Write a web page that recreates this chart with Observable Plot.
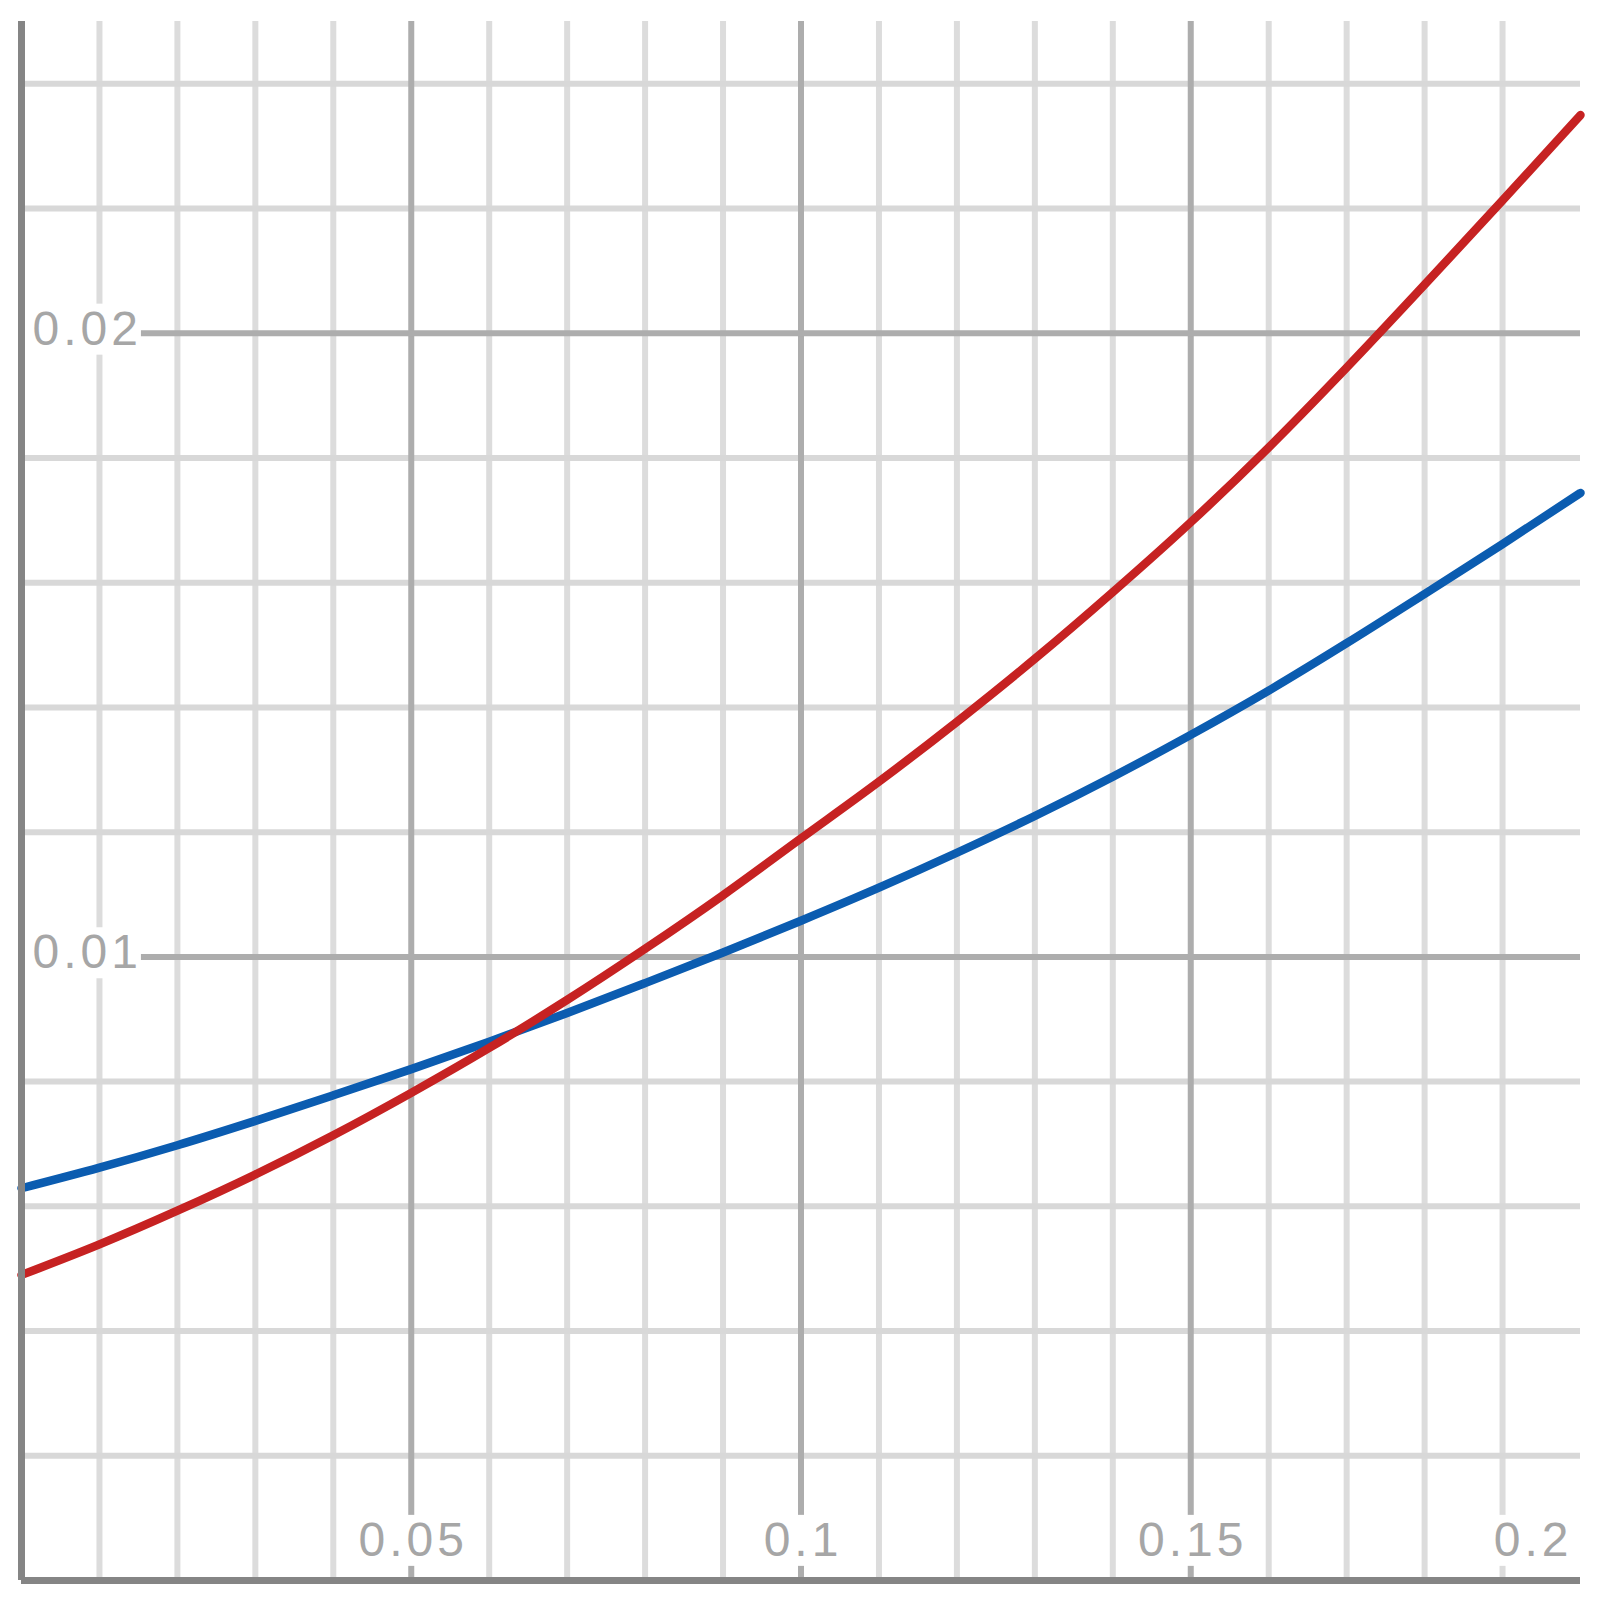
<!DOCTYPE html>
<html>
<head>
<meta charset="utf-8">
<script src="https://cdn.jsdelivr.net/npm/d3@7"></script>
<script src="https://cdn.jsdelivr.net/npm/@observablehq/plot@0.6"></script>
<style>
  html, body { margin: 0; padding: 0; background: #fff; }
  #chart svg text { letter-spacing: 4px; }
</style>
</head>
<body>
<div id="chart"></div>
<script>
// x positions (shared by both series)
const xValues = [0, 0.01, 0.02, 0.03, 0.04, 0.05, 0.06, 0.07, 0.08, 0.09, 0.10,
                 0.11, 0.12, 0.13, 0.14, 0.15, 0.16, 0.17, 0.18, 0.19, 0.20];
// red series (steeper curve)
const redSeries = [0.00490, 0.00539, 0.00593, 0.00651, 0.00714, 0.00782, 0.00854, 0.00931,
                   0.01013, 0.01099, 0.01190, 0.01281, 0.01377, 0.01478, 0.01585, 0.01697,
                   0.01817, 0.01945, 0.02078, 0.02213, 0.02350];
// blue series (flatter curve)
const blueSeries = [0.00629, 0.00662, 0.00698, 0.00737, 0.00778, 0.00820, 0.00864, 0.00910,
                    0.00958, 0.01007, 0.01058, 0.01111, 0.01167, 0.01226, 0.01289, 0.01356,
                    0.01427, 0.01503, 0.01582, 0.01662, 0.01744];
// tick / grid values
const xMajorTicks = [0.05, 0.1, 0.15];
const xTickLabels = [0.05, 0.1, 0.15, 0.2];
const xMinorTicks = [0.01, 0.02, 0.03, 0.04, 0.06, 0.07, 0.08, 0.09, 0.11, 0.12, 0.13, 0.14, 0.16, 0.17, 0.18, 0.19];
const yMajorTicks = [0.01, 0.02];
const yMinorTicks = [0.002, 0.004, 0.006, 0.008, 0.012, 0.014, 0.016, 0.018, 0.022, 0.024];

const redData = xValues.map((x, i) => ({x, y: redSeries[i]}));
const blueData = xValues.map((x, i) => ({x, y: blueSeries[i]}));

const labelFill = "#a6a6a6";
const font = 48;

const chart = Plot.plot({
  width: 1601,
  height: 1601,
  marginLeft: 21,
  marginRight: 21,
  marginTop: 21,
  marginBottom: 21,
  x: {domain: [0, 0.2], axis: null},
  y: {domain: [0, 0.025], axis: null},
  style: {background: "white", fontFamily: "'Liberation Sans', Arial, sans-serif"},
  marks: [
    Plot.ruleX(xMinorTicks, {stroke: "#dcdcdc", strokeWidth: 6}),
    Plot.ruleY(yMinorTicks, {stroke: "#d8d8d8", strokeWidth: 6}),
    Plot.ruleX(xMajorTicks, {stroke: "#adadad", strokeWidth: 6}),
    Plot.ruleY(yMajorTicks, {stroke: "#adadad", strokeWidth: 6}),
    Plot.text(yMajorTicks, {
      x: 0, y: d => d, text: d => String(d),
      textAnchor: "start", lineAnchor: "middle", dx: 11, dy: -4,
      fontSize: font, fill: labelFill
    }),
    Plot.text(xTickLabels.filter(d => d < 0.2), {
      x: d => d, y: 0, text: d => String(d),
      textAnchor: "middle", lineAnchor: "middle", dx: 2, dy: -40,
      fontSize: font, fill: labelFill
    }),
    Plot.text(xTickLabels.filter(d => d >= 0.2), {
      x: d => d, y: 0, text: d => String(d),
      textAnchor: "end", lineAnchor: "middle", dx: -8, dy: -40,
      fontSize: font, fill: labelFill
    }),
    Plot.line(blueData, {x: "x", y: "y", stroke: "#0b5cb0", strokeWidth: 8.5, curve: "monotone-x"}),
    Plot.line(redData, {x: "x", y: "y", stroke: "#c62222", strokeWidth: 8.5, curve: "monotone-x"}),
    Plot.ruleX([0], {stroke: "#858585", strokeWidth: 7}),
    Plot.ruleY([0], {stroke: "#858585", strokeWidth: 7})
  ]
});
document.getElementById("chart").appendChild(chart);

// white background boxes behind the tick labels (they hide the grid lines)
const ns = "http://www.w3.org/2000/svg";
chart.querySelectorAll("text").forEach(t => {
  const b = t.getBBox();
  const padX = 3, padTop = 2, padBottom = 0;
  const r = document.createElementNS(ns, "rect");
  r.setAttribute("x", b.x - padX - 8);
  r.setAttribute("y", b.y + padTop);
  r.setAttribute("width", b.width + 2 * padX + 4);
  r.setAttribute("height", b.height - padTop - padBottom);
  r.setAttribute("fill", "white");
  const tr = t.getAttribute("transform");
  if (tr) r.setAttribute("transform", tr);
  t.parentNode.insertBefore(r, t);
});
</script>
</body>
</html>
